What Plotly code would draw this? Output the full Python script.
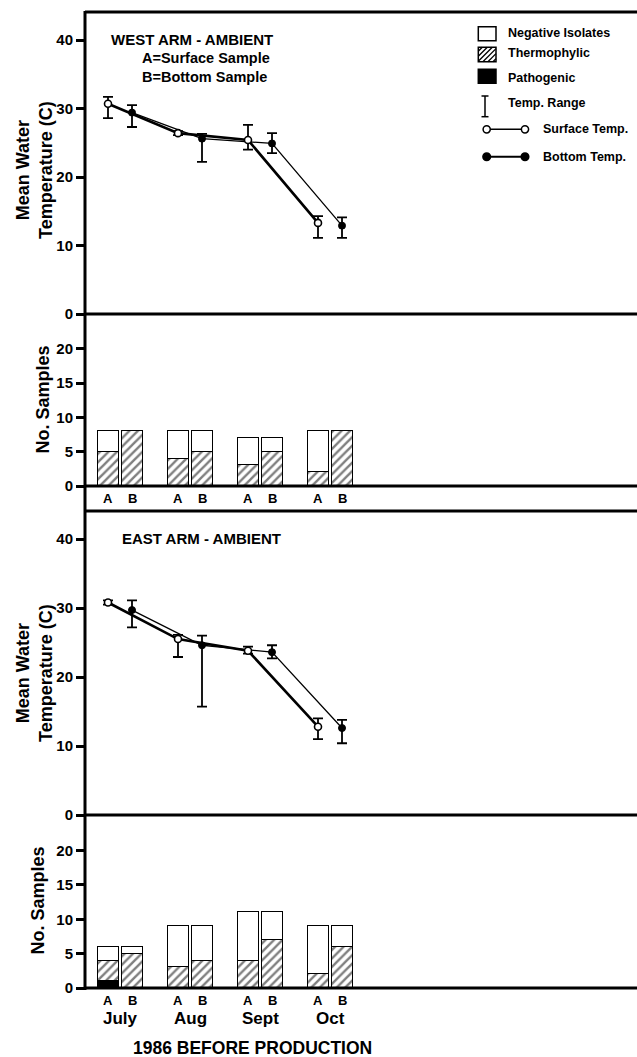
import plotly.graph_objects as go

# ---------------- data ----------------
months = ["July", "Aug", "Sept", "Oct"]
sample_labels = ["A", "B"]

# West arm temperatures (surface = A sample, bottom = B sample)
west_surf_mean = [30.7, 26.4, 25.4, 13.3]
west_surf_hi = [31.7, 26.7, 27.6, 14.3]
west_surf_lo = [28.6, 26.1, 24.0, 11.1]
west_bot_mean = [29.4, 25.6, 24.9, 12.9]
west_bot_hi = [30.5, 26.3, 26.4, 14.1]
west_bot_lo = [27.3, 22.2, 23.5, 11.1]

# East arm temperatures
east_surf_mean = [30.8, 25.5, 23.8, 12.8]
east_surf_hi = [31.1, 26.1, 24.4, 14.0]
east_surf_lo = [30.5, 22.9, 23.4, 11.0]
east_bot_mean = [29.7, 24.6, 23.6, 12.6]
east_bot_hi = [31.1, 26.0, 24.6, 13.8]
east_bot_lo = [27.2, 15.7, 22.7, 10.4]

# sample counts, order: July A, July B, Aug A, Aug B, Sept A, Sept B, Oct A, Oct B
west_pathogenic = [0, 0, 0, 0, 0, 0, 0, 0]
west_thermophylic = [5, 8, 4, 5, 3, 5, 2, 8]
west_negative = [3, 0, 4, 3, 4, 2, 6, 0]
east_pathogenic = [1, 0, 0, 0, 0, 0, 0, 0]
east_thermophylic = [3, 5, 3, 4, 4, 7, 2, 6]
east_negative = [2, 1, 6, 5, 7, 4, 7, 3]

temp_ticks = [0, 10, 20, 30, 40]
count_ticks = [0, 5, 10, 15, 20]

# ---------------- geometry helpers ----------------
W, H = 637, 1057
ML, MR, MT, MB = 85, 0, 12, 69
PW, PH = W - ML - MR, H - MT - MB
OFF = 0.1714      # A/B offset from month centre (x units)
BARW = 0.30
XR = [-0.5, 7.3857]


def px(x):
    return (x - ML) / PW


def py(y):
    return (H - MB - y) / PH


xA = [i - OFF for i in range(len(months))]
xB = [i + OFF for i in range(len(months))]
xbars = [v for i in range(len(months)) for v in (i - OFF, i + OFF)]

FONT = "Liberation Sans, Arial, Helvetica, sans-serif"
BLACK = "black"

fig = go.Figure()


def add_bars(path, thermo, neg, yax):
    fig.add_trace(go.Bar(x=xbars, y=path, width=BARW, yaxis=yax, showlegend=False,
                         marker=dict(color=BLACK, line=dict(color=BLACK, width=1.5))))
    fig.add_trace(go.Bar(x=xbars, y=thermo, width=BARW, yaxis=yax, showlegend=False,
                         marker=dict(color="white", line=dict(color=BLACK, width=1.5),
                                     pattern=dict(shape="/", fgcolor=BLACK, bgcolor="white",
                                                  size=6, solidity=0.4))))
    fig.add_trace(go.Bar(x=xbars, y=neg, width=BARW, yaxis=yax, showlegend=False,
                         marker=dict(color="white", line=dict(color=BLACK, width=1.5))))


def add_temps(sm, shi, slo, bm, bhi, blo, yax):
    fig.add_trace(go.Scatter(
        x=xB, y=bm, yaxis=yax, mode="lines+markers", showlegend=False,
        line=dict(color=BLACK, width=1.3),
        marker=dict(symbol="circle", size=7, color=BLACK, line=dict(color=BLACK, width=1)),
        error_y=dict(type="data", symmetric=False,
                     array=[h - m for h, m in zip(bhi, bm)],
                     arrayminus=[m - l for m, l in zip(bm, blo)],
                     color=BLACK, thickness=1.8, width=5)))
    fig.add_trace(go.Scatter(
        x=xA, y=sm, yaxis=yax, mode="lines+markers", showlegend=False,
        line=dict(color=BLACK, width=2.6),
        marker=dict(symbol="circle", size=7, color="white", line=dict(color=BLACK, width=1.6)),
        error_y=dict(type="data", symmetric=False,
                     array=[h - m for h, m in zip(shi, sm)],
                     arrayminus=[m - l for m, l in zip(sm, slo)],
                     color=BLACK, thickness=1.8, width=5)))


add_bars(west_pathogenic, west_thermophylic, west_negative, "y2")
add_bars(east_pathogenic, east_thermophylic, east_negative, "y4")
add_temps(west_surf_mean, west_surf_hi, west_surf_lo,
          west_bot_mean, west_bot_hi, west_bot_lo, "y")
add_temps(east_surf_mean, east_surf_hi, east_surf_lo,
          east_bot_mean, east_bot_hi, east_bot_lo, "y3")

tickfont = dict(family=FONT, size=15, color=BLACK, weight="bold")


def yaxis(top_px, bot_px, px_per_unit, tickvals):
    return dict(domain=[py(bot_px), py(top_px)],
                range=[0, (bot_px - top_px) / px_per_unit],
                tickvals=tickvals, ticks="outside", ticklen=8, tickwidth=2.5,
                tickcolor=BLACK, tickfont=tickfont, showgrid=False, zeroline=False,
                showline=False, anchor="x", fixedrange=True)


def inner(base, over, tickvals):
    d = dict(base)
    d.update(overlaying=over, ticks="inside", ticklen=7, tickvals=tickvals,
             showticklabels=False)
    d.pop("tickfont")
    return d


ya1 = yaxis(12, 314, 6.85, temp_ticks)
ya2 = yaxis(314, 486, 6.86, count_ticks)
ya3 = yaxis(511, 815, 6.9, temp_ticks)
ya4 = yaxis(815, 988, 6.87, count_ticks)

layout = dict(
    width=W, height=H,
    margin=dict(l=ML, r=MR, t=MT, b=MB, pad=0),
    paper_bgcolor="white", plot_bgcolor="white",
    barmode="stack", bargap=0,
    showlegend=False,
    xaxis=dict(range=XR, domain=[0, 1], visible=False, anchor="y4", fixedrange=True),
    yaxis=ya1, yaxis2=ya2, yaxis3=ya3, yaxis4=ya4,
    yaxis5=inner(ya1, "y", temp_ticks[-1:]),
    yaxis6=inner(ya2, "y2", count_ticks[1:]),
    yaxis7=inner(ya3, "y3", temp_ticks[-1:]),
    yaxis8=inner(ya4, "y4", count_ticks[1:]),
)
fig.update_layout(**layout)

shapes = []
LW = 3
# frame lines
shapes.append(dict(type="line", xref="paper", yref="paper", x0=0, x1=0,
                   y0=py(990), y1=py(11), line=dict(color=BLACK, width=LW)))
for yy in [12, 314, 486, 511, 815, 988]:
    shapes.append(dict(type="line", xref="paper", yref="paper", x0=0, x1=1.01,
                       y0=py(yy), y1=py(yy), line=dict(color=BLACK, width=LW)))


def rect(x0, y0, x1, y1, fill="white", lw=1.5):
    shapes.append(dict(type="rect", xref="paper", yref="paper", x0=px(x0), x1=px(x1),
                       y0=py(y1), y1=py(y0), fillcolor=fill,
                       line=dict(color=BLACK, width=lw)))


def seg(x0, y0, x1, y1, lw=1.5):
    shapes.append(dict(type="line", xref="paper", yref="paper", x0=px(x0), x1=px(x1),
                       y0=py(y0), y1=py(y1), line=dict(color=BLACK, width=lw)))


def circ(cx, cy, r, fill):
    shapes.append(dict(type="circle", xref="paper", yref="paper",
                       x0=px(cx - r), x1=px(cx + r), y0=py(cy + r), y1=py(cy - r),
                       fillcolor=fill, line=dict(color=BLACK, width=1.5)))


# legend glyphs
LX0, LX1 = 478.3, 496.0
rect(LX0, 26.7, LX1, 40.7)
rect(LX0, 47.3, LX1, 61.7)
# hatching for thermophylic swatch
y_top, y_bot = 47.3, 61.7
hgt = y_bot - y_top
c = LX0 - hgt + 4
while c < LX1:
    xa, ya = c, y_bot
    xb, yb = c + hgt, y_top
    if xa < LX0:
        ya = y_bot - (LX0 - c)
        xa = LX0
    if xb > LX1:
        yb = y_bot - (LX1 - c)
        xb = LX1
    seg(xa, ya, xb, yb, lw=1.3)
    c += 5
rect(LX0, 69.3, LX1, 83.3, fill=BLACK)
# temp range I-beam
seg(485, 96, 485, 116.7)
seg(481.5, 96, 488.5, 96)
seg(481.5, 116.7, 488.5, 116.7)
# surface / bottom temp glyphs
seg(486.7, 129.3, 525, 129.3, lw=1.5)
circ(486.7, 129.3, 3.6, "white")
circ(525, 129.3, 3.6, "white")
seg(486.7, 156.7, 525, 156.7, lw=2)
circ(486.7, 156.7, 3.8, BLACK)
circ(525, 156.7, 3.8, BLACK)

fig.update_layout(shapes=shapes)

ann = []


def text(t, x, y, size, xanchor="left", xref="paper", angle=0, align="left"):
    ann.append(dict(text=t, x=(px(x) if xref == "paper" else x), y=py(y),
                    xref=xref, yref="paper", xanchor=xanchor, yanchor="middle",
                    showarrow=False, textangle=angle, align=align,
                    font=dict(family=FONT, size=size, color=BLACK, weight="bold")))


text("WEST ARM - AMBIENT", 108.5, 40, 15)
text("A=Surface Sample<br>B=Bottom Sample", 140, 67.5, 14.5)
text("EAST ARM - AMBIENT", 120, 538, 15)

text("Negative Isolates", 505.5, 33.3, 12.5)
text("Thermophylic", 505.5, 53.5, 12.5)
text("Pathogenic", 505.5, 77.7, 12.5)
text("Temp. Range", 505.5, 102.7, 12.5)
text("Surface Temp.", 541, 129.3, 12.5)
text("Bottom Temp.", 541, 156.7, 12.5)

text("Mean Water<br>Temperature (C)", 34, 170, 18, xanchor="center", angle=-90, align="center")
text("No. Samples", 42.5, 400, 18, xanchor="center", angle=-90)
text("Mean Water<br>Temperature (C)", 34, 673, 18, xanchor="center", angle=-90, align="center")
text("No. Samples", 37.5, 901, 18, xanchor="center", angle=-90)

for xv, lab in zip(xbars, sample_labels * len(months)):
    text(lab, xv, 498.5, 13, xanchor="center", xref="x")
    text(lab, xv, 1000, 13, xanchor="center", xref="x")
for i, m in enumerate(months):
    text(m, i, 1018.5, 17, xanchor="center", xref="x")
text("1986 BEFORE PRODUCTION", 252, 1047.5, 17.5, xanchor="center")

fig.update_layout(annotations=ann)

fig.write_html("out.html", config=dict(displayModeBar=False))
